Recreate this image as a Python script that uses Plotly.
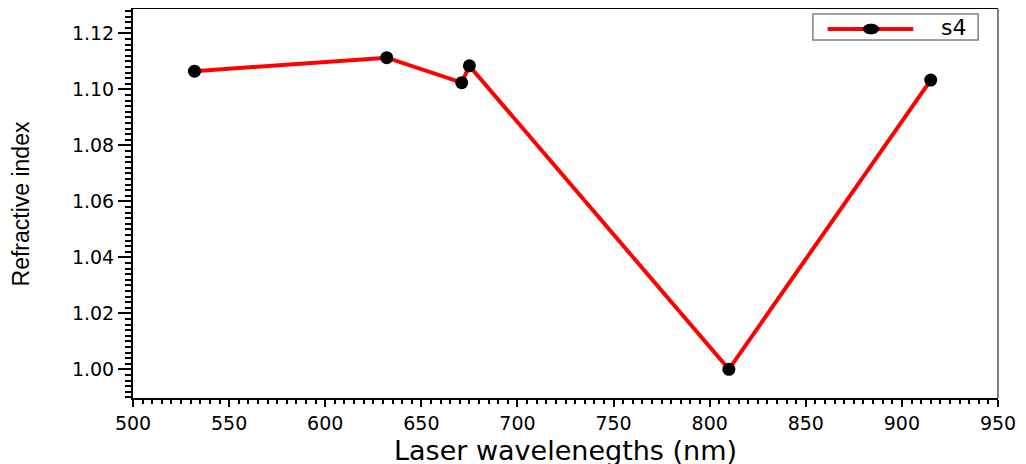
import plotly.graph_objects as go

wavelengths = [532, 632, 671, 675, 810, 915]
refractive_index = [1.1065, 1.1113, 1.1024, 1.1084, 1.000, 1.1033]
series_name = "s4"
x_ticks = [500, 550, 600, 650, 700, 750, 800, 850, 900, 950]
y_ticks = [1.00, 1.02, 1.04, 1.06, 1.08, 1.10, 1.12]

RED = "#ff0000"
fig = go.Figure()
fig.add_trace(go.Scatter(
    x=wavelengths, y=refractive_index, name=series_name,
    mode="lines+markers", showlegend=False,
    line=dict(color=RED, width=4),
    marker=dict(color="black", size=13, symbol="circle"),
))

tick_font = "DejaVu Sans, Arial, sans-serif"
title_font = "DejaVu Sans, Arial, sans-serif"
fig.update_layout(
    width=1026, height=464,
    margin=dict(l=125, r=36, t=1, b=74, autoexpand=False),
    plot_bgcolor="white", paper_bgcolor="white",
    font=dict(family=tick_font, color="black", size=19),
    showlegend=False,
    xaxis=dict(
        range=[500, 950], tickvals=x_ticks, ticktext=[str(v) for v in x_ticks],
        showline=True, linecolor="black", linewidth=2, mirror=True,
        ticks="outside", ticklen=7, tickwidth=2, tickcolor="black",
        minor=dict(dtick=5, ticks="outside", ticklen=4, tickwidth=1.5, tickcolor="black"),
        showgrid=False, zeroline=False, automargin=False,
        tickfont=dict(size=19, family=tick_font),
    ),
    yaxis=dict(
        range=[0.98975, 1.1287], tickvals=y_ticks, ticktext=[f"{v:.2f}" for v in y_ticks],
        showline=True, linecolor="black", linewidth=2,
        ticks="outside", ticklen=13, tickwidth=2, tickcolor="black",
        minor=dict(dtick=0.002, ticks="outside", ticklen=6, tickwidth=1.5, tickcolor="black"),
        showgrid=False, zeroline=False, automargin=False,
        tickfont=dict(size=19, family=tick_font),
    ),
)
# right frame line in grey
fig.add_shape(type="line", xref="paper", yref="paper", x0=1, x1=1, y0=0, y1=1,
              line=dict(color="#808080", width=2))
# axis titles
fig.add_annotation(text="Laser wavelenegths (nm)", xref="paper", yref="paper",
                   x=0.5, y=-0.1337, yanchor="middle", xanchor="center", showarrow=False,
                   font=dict(size=27, family=title_font))
fig.add_annotation(text="Refractive index", xref="paper", yref="paper",
                   x=-0.1295, y=0.5, xanchor="center", yanchor="middle", textangle=-90,
                   showarrow=False, font=dict(size=23, family="Liberation Sans, Arial, sans-serif"))
# legend box
fig.add_shape(type="rect", xref="paper", yref="paper", x0=0.786, x1=0.977, y0=0.920, y1=0.987,
              line=dict(color="#808080", width=1.5), fillcolor="white")
fig.add_shape(type="line", xref="paper", yref="paper", x0=0.803, x1=0.902, y0=0.9486, y1=0.9486,
              line=dict(color=RED, width=4))
fig.add_shape(type="circle", xref="paper", yref="paper", x0=0.844, x1=0.8624, y0=0.936, y1=0.961,
              line=dict(color="black", width=1), fillcolor="black")
fig.add_annotation(text=series_name, xref="paper", yref="paper", x=0.965, y=0.9515,
                   xanchor="right", yanchor="middle", showarrow=False,
                   font=dict(size=22, family=tick_font))
fig.write_html("out.html")
